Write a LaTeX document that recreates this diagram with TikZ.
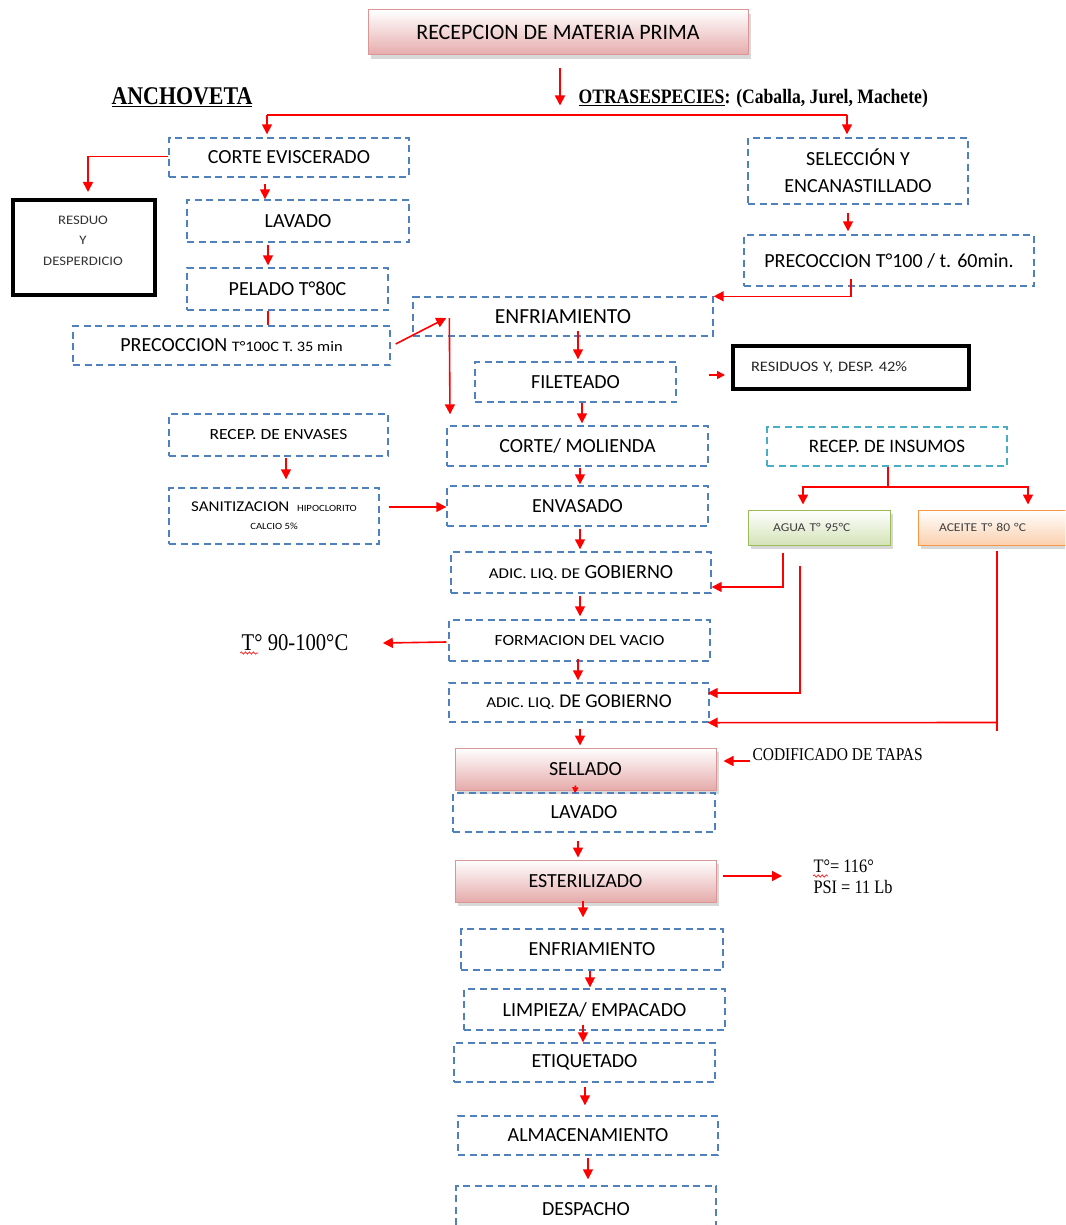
\documentclass[tikz,border=0pt]{standalone}
\usepackage{fontspec}
\setmainfont{Carlito}
\newfontfamily\widefont[FakeStretch=1.13]{Carlito}
\newfontfamily\tnr[FakeStretch=0.86]{Liberation Serif}
\usetikzlibrary{arrows.meta,calc,shadows,decorations.pathmorphing}
\definecolor{boxblue}{HTML}{4F81BD}
\definecolor{cyanbox}{HTML}{4BACC6}
\definecolor{pinkb}{HTML}{E6ABAB}
\definecolor{pinkedge}{HTML}{D99694}
\definecolor{greenb}{HTML}{D4E3B8}
\definecolor{greenedge}{HTML}{9BBB59}
\definecolor{orangeb}{HTML}{FBD0AE}
\definecolor{orangeedge}{HTML}{F79646}
\newcommand\fsz[2]{\fontsize{#1}{#2}\selectfont}
\tikzset{
  dbox/.style={draw=boxblue, line width=1.4pt, dash pattern=on 7pt off 4.5pt,
    inner sep=0pt, align=center, font=\fsz{20}{24}},
  cbox/.style={dbox, draw=cyanbox},
  pbox/.style={draw=pinkedge, line width=1pt, top color=white, bottom color=pinkb,
    drop shadow={shadow xshift=3pt, shadow yshift=-4pt, opacity=0.3, fill=gray},
    inner sep=0pt, align=center, font=\fsz{20}{24}},
  gbox/.style={draw=greenedge, line width=1pt, top color=white, bottom color=greenb,
    drop shadow={shadow xshift=3pt, shadow yshift=-4pt, opacity=0.3, fill=gray},
    inner sep=0pt, font=\widefont\fsz{12}{14}, text=black!75},
  obox/.style={gbox, draw=orangeedge, bottom color=orangeb},
  blkbox/.style={draw=black, line width=4pt, inner sep=0pt, align=center},
  rline/.style={draw=red, line width=1.6pt},
  arr/.style={rline, -{Triangle[width=10pt,length=10pt]}},
  smallarr/.style={rline, -{Triangle[width=8pt,length=8pt]}},
  tinyarr/.style={rline, -{Triangle[width=6pt,length=6pt]}},
  squig/.style={draw=red, line width=0.6pt, decorate,
    decoration={snake, amplitude=1.2pt, segment length=4pt}},
}
\begin{document}
\begin{tikzpicture}[x=1pt, y=-1pt]
\useasboundingbox (0,0) rectangle (1065,1225);
\clip (0,0) rectangle (1065,1225);
\fill[white] (0,0) rectangle (1065,1225);

% ---------- headings ----------
\node[pbox, minimum width=380pt, minimum height=45pt, font=\fsz{22}{26}] (top) at (558,32.5) {RECEPCION DE MATERIA PRIMA};
\node[font=\tnr\bfseries\fsz{25.5}{30}] (anch) at (182,97) {\underline{ANCHOVETA}};
\node[anchor=west, font=\tnr\bfseries\fsz{20.5}{24}] (otras) at (575,99) {\underline{OTRASESPECIES}: (Caballa, Jurel, Machete)};

% ---------- anchoveta line ----------
\node[dbox, minimum width=240pt, minimum height=39pt] (corte) at (289,157.5) {CORTE EVISCERADO};
\node[blkbox, minimum width=142pt, minimum height=95pt] (resduo) at (84,247.5) {};
\node[font=\widefont\fsz{13}{20.5}, text=black!80, align=center] (resduotxt) at (83,240.5) {RESDUO\\Y\\DESPERDICIO};
\node[dbox, minimum width=222pt, minimum height=42pt] (lavado1) at (298,221) {LAVADO};
\node[dbox, minimum width=201pt, minimum height=42pt] (pelado) at (287.5,289) {PELADO T°80C};
\node[dbox, minimum width=317pt, minimum height=39pt] (precoc1) at (231.5,345.5) {PRECOCCION {\widefont\fsz{14.5}{17}T°100C T. 35 min}};

% ---------- other species line ----------
\node[dbox, minimum width=220pt, minimum height=66pt, font=\fsz{20}{27}] (selec) at (858,171) {SELECCIÓN Y\\ENCANASTILLADO};
\node[dbox, minimum width=290pt, minimum height=51pt] (precoc2) at (889,260.5) {PRECOCCION T°100 / t. 60min.};

% ---------- main column ----------
\node[dbox, minimum width=300pt, minimum height=39pt, font=\fsz{21.5}{25}] (enfr1) at (563,316.5) {ENFRIAMIENTO};
\node[dbox, minimum width=201pt, minimum height=40pt] (filet) at (575.5,382) {FILETEADO};
\node[blkbox, minimum width=236pt, minimum height=43pt, text width=200pt, align=left, font=\widefont\fsz{14.5}{17}, text=black!85] (resid) at (851,367.5) {RESIDUOS Y, DESP. 42\%};
\node[dbox, minimum width=261pt, minimum height=40pt] (corte2) at (577.5,446) {CORTE/ MOLIENDA};
\node[dbox, minimum width=219pt, minimum height=42pt, font=\widefont\fsz{15.5}{18}] (envases) at (278.5,435) {RECEP. DE ENVASES};
\node[dbox, minimum width=210pt, minimum height=56pt, font=\widefont\fsz{15}{18}] (sanit) at (274,516) {SANITIZACION \ {\fsz{9.5}{11}HIPOCLORITO}\\{\fsz{9.5}{11}CALCIO 5\%}};
\node[dbox, minimum width=261pt, minimum height=40pt] (envasado) at (577.5,506) {ENVASADO};
\node[dbox, minimum width=260pt, minimum height=41pt] (adic1) at (581,572.5) {{\widefont\fsz{15}{18}ADIC. LIQ. DE} GOBIERNO};
\node[cbox, minimum width=240pt, minimum height=39pt, font=\fsz{19}{23}] (insumos) at (887,446.5) {RECEP. DE INSUMOS};
\node[gbox, minimum width=142pt, minimum height=35pt, text width=92pt, align=left] (agua) at (819,527.5) {AGUA T° 95°C};
\node[obox, minimum width=157pt, minimum height=35pt, text width=115pt, align=left] (aceite) at (996.5,527.5) {ACEITE T° 80 °C};
\node[dbox, minimum width=261pt, minimum height=41pt, font=\widefont\fsz{15.5}{18}] (vacio) at (579.5,640.5) {FORMACION DEL VACIO};
\node[font=\tnr\fsz{24}{28}] (temp) at (295,643) {T° 90-100°C};
\node[dbox, minimum width=260pt, minimum height=39pt, font=\fsz{19.5}{23}] (adic2) at (579,702.5) {{\widefont\fsz{15}{18}ADIC. LIQ.} DE GOBIERNO};
\node[pbox, minimum width=261pt, minimum height=42pt] (sellado) at (585.5,769) {SELLADO};
\node[anchor=west, font=\tnr\fsz{18}{21}] (codif) at (749,755) {CODIFICADO DE TAPAS};
\node[dbox, minimum width=262pt, minimum height=39pt] (lavado2) at (584,812.5) {LAVADO};
\node[pbox, minimum width=261pt, minimum height=42pt] (ester) at (585.5,881) {ESTERILIZADO};
\node[anchor=west, align=left, font=\tnr\fsz{19}{21}] (spec) at (810,877) {T°= 116°\\PSI = 11 Lb};
\node[dbox, minimum width=262pt, minimum height=41pt] (enfr2) at (592,949.5) {ENFRIAMIENTO};
\node[dbox, minimum width=261pt, minimum height=41pt] (limp) at (594.5,1009.5) {LIMPIEZA/ EMPACADO};
\node[dbox, minimum width=261pt, minimum height=39pt] (etiq) at (584.5,1062.5) {ETIQUETADO};
\node[dbox, minimum width=260pt, minimum height=39pt] (almac) at (588,1135.5) {ALMACENAMIENTO};
\node[dbox, minimum width=260pt, minimum height=46pt] (desp) at (586,1209) {DESPACHO};

% spelling marks under the temperature symbols
\draw[squig] ($(temp.west)+(2,10)$) -- ($(temp.west)+(20,10)$);
\draw[squig] ($(spec.west)+(3,-1)$) -- ($(spec.west)+(18,-1)$);

% ---------- connectors ----------
\draw[arr] ($(top.south)+(2,13)$) -- ++(0,37);
\coordinate (bl) at (267,115);
\coordinate (br) at (847,115);
\draw[rline] (bl) -- (br);
\draw[arr, shorten >=3pt] (bl) -- (bl |- corte.north);
\draw[arr, shorten >=3pt] (br) -- (br |- selec.north);

\draw[arr, shorten >=6pt] ($(corte.west)+(0,-1)$) -| ($(resduo.north)+(4,0)$);
\draw[arr] ($(corte.south)+(-24,6)$) -- ($(lavado1.north)+(-33,0)$);
\draw[arr] ($(lavado1.south)+(-30,2)$) -- ($(pelado.north)+(-19.5,-2)$);
\draw[rline] ($(pelado.south)+(-19.5,0)$) -- ($(precoc1.north)+(36.5,0)$);
\draw[arr] ($(precoc1.east)+(5,-1.5)$) -- ($(enfr1.west)+(34,1.5)$);
\draw[arr] ($(enfr1.west)+(37,1.5)$) -- ($(corte2.north)+(-127.5,-11)$);

\draw[arr] ($(selec.south)+(-10,8)$) -- ($(precoc2.north)+(-41,-3)$);
\draw[arr] ($(precoc2.south)+(-38,-8)$) |- (enfr1.north east);

\draw[arr] ($(enfr1.south)+(15,-6)$) -- ($(filet.north)+(2.5,-2)$);
\draw[smallarr] ($(filet.east)+(32,-7)$) -- ($(resid.west)+(-6,7.5)$);
\draw[arr] ($(filet.south)+(6.5,0)$) -- ($(corte2.north)+(4.5,-2)$);
\draw[arr] ($(envases.south)+(7.5,1)$) -- ($(sanit.north)+(12,-8)$);
\draw[arr] ($(sanit.east)+(9,-9)$) -- ($(envasado.west)+(0,1)$);
\draw[arr] ($(corte2.south)+(2.5,1)$) -- ($(envasado.north)+(2.5,-1)$);
\draw[arr] ($(envasado.south)+(2.5,2)$) -- ($(adic1.north)+(-1,-2)$);

\coordinate (ins) at ($(insumos.south)+(1,20)$);
\draw[rline] ($(insumos.south)+(1,0)$) -- (ins);
\draw[arr] (ins) -| ($(agua.north)+(-16,-5)$);
\draw[arr] (ins) -| ($(aceite.north)+(31.5,-5)$);
\draw[arr] ($(agua.south)+(-36,7)$) |- ($(adic1.east)+(0,14.5)$);
\draw[arr] ($(agua.south)+(-19,20)$) |- ($(adic2.east)+(-2,-9.5)$);
\draw[rline] ($(aceite.south)+(0.5,5)$) -- ++(0,180);
\draw[arr] ($(aceite.south)+(0.5,177)$) -- ($(adic2.south east)+(-2,0)$);

\draw[arr] ($(adic1.south)+(-1,2)$) -- ($(vacio.north)+(0.5,-3)$);
\draw[arr] ($(vacio.west)+(-2,1.5)$) -- ($(temp.east)+(31,0)$);
\draw[arr] ($(vacio.south)+(-1.5,-3)$) -- ($(adic2.north)+(-1,-2)$);
\draw[arr] ($(adic2.south)+(1,6)$) -- ($(sellado.north)+(-5.5,-2)$);
\draw[arr] ($(codif.west)+(1,6)$) -- ($(sellado.east)+(7,-8)$);
\draw[tinyarr] ($(sellado.south)+(-10,-5)$) -- ($(lavado2.north)+(-9,1)$);
\draw[arr] ($(lavado2.south)+(-6,8)$) -- ($(ester.north)+(-7.5,-2)$);
\draw[arr] ($(ester.east)+(6,-5)$) -- ($(spec.west)+(-28,-1)$);
\draw[arr] ($(ester.south)+(-2.5,-2)$) -- ($(enfr2.north)+(-9,-11)$);
\draw[arr] ($(enfr2.south)+(-2,0)$) -- ($(limp.north)+(-4.5,-1)$);
\draw[arr] ($(limp.south)+(-11.5,-6)$) -- ($(etiq.north)+(-1.5,0)$);
\draw[arr] ($(etiq.south)+(0.5,4)$) -- ($(almac.north)+(-3,-10)$);
\draw[arr] ($(almac.south)+(0,2)$) -- ($(desp.north)+(2,-6)$);
\end{tikzpicture}
\end{document}
